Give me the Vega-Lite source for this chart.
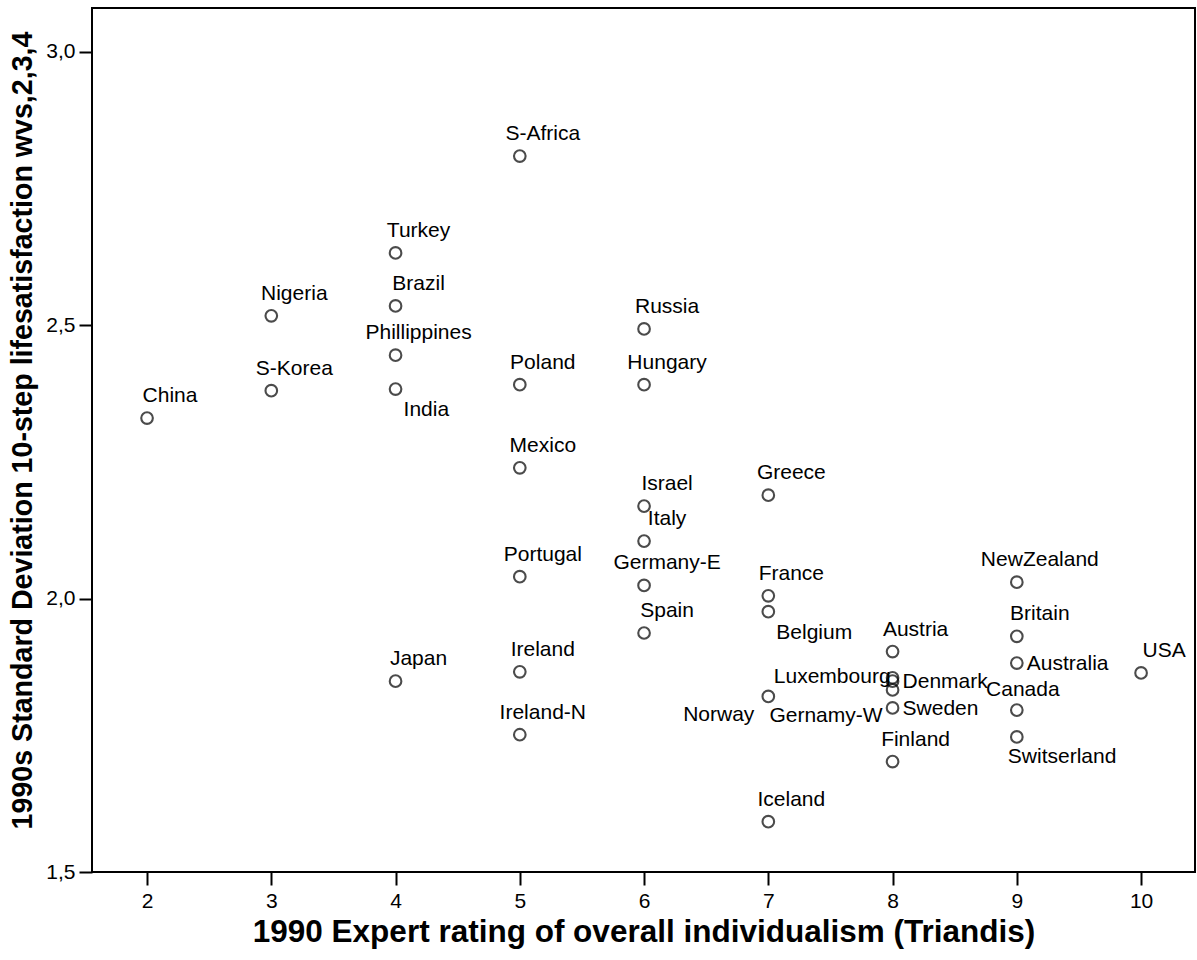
{
  "$schema": "https://vega.github.io/schema/vega-lite/v6.json",
  "autosize": "none",
  "width": 1103,
  "height": 864,
  "padding": {"left": 92, "top": 8, "right": 2, "bottom": 88},
  "background": "white",
  "config": {
    "font": "Liberation Sans",
    "view": {"stroke": "black", "strokeWidth": 2},
    "axis": {
      "domain": false,
      "grid": false,
      "tickColor": "black",
      "tickSize": 13,
      "tickWidth": 2,
      "labelColor": "black",
      "labelFont": "Liberation Sans",
      "labelFontSize": 21,
      "titleFont": "Liberation Sans",
      "titleFontWeight": "bold",
      "titleColor": "black"
    }
  },
  "data": {
    "values": [
      {"country": "China", "x": 2, "y": 2.330},
      {"country": "S-Korea", "x": 3, "y": 2.380},
      {"country": "Nigeria", "x": 3, "y": 2.517},
      {"country": "Turkey", "x": 4, "y": 2.632},
      {"country": "Brazil", "x": 4, "y": 2.535},
      {"country": "Phillippines", "x": 4, "y": 2.445},
      {"country": "India", "x": 4, "y": 2.383},
      {"country": "Japan", "x": 4, "y": 1.849},
      {"country": "S-Africa", "x": 5, "y": 2.809},
      {"country": "Poland", "x": 5, "y": 2.391},
      {"country": "Mexico", "x": 5, "y": 2.239},
      {"country": "Portugal", "x": 5, "y": 2.040},
      {"country": "Ireland", "x": 5, "y": 1.866},
      {"country": "Ireland-N", "x": 5, "y": 1.751},
      {"country": "Russia", "x": 6, "y": 2.493},
      {"country": "Hungary", "x": 6, "y": 2.391},
      {"country": "Israel", "x": 6, "y": 2.169},
      {"country": "Italy", "x": 6, "y": 2.105},
      {"country": "Germany-E", "x": 6, "y": 2.024},
      {"country": "Spain", "x": 6, "y": 1.937},
      {"country": "Greece", "x": 7, "y": 2.189},
      {"country": "France", "x": 7, "y": 2.005},
      {"country": "Belgium", "x": 7, "y": 1.976},
      {"country": "Norway", "x": 7, "y": 1.821},
      {"country": "Iceland", "x": 7, "y": 1.592},
      {"country": "Austria", "x": 8, "y": 1.903},
      {"country": "Luxembourg", "x": 8, "y": 1.855},
      {"country": "Denmark", "x": 8, "y": 1.849},
      {"country": "Gernamy-W", "x": 8, "y": 1.833},
      {"country": "Sweden", "x": 8, "y": 1.800},
      {"country": "Finland", "x": 8, "y": 1.702},
      {"country": "NewZealand", "x": 9, "y": 2.030},
      {"country": "Britain", "x": 9, "y": 1.931},
      {"country": "Australia", "x": 9, "y": 1.882},
      {"country": "Canada", "x": 9, "y": 1.796},
      {"country": "Switserland", "x": 9, "y": 1.747},
      {"country": "USA", "x": 10, "y": 1.864}
    ]
  },
  "encoding": {
    "x": {
      "field": "x",
      "type": "quantitative",
      "scale": {"domain": [1.557, 10.434], "nice": false, "zero": false},
      "axis": {
        "values": [2, 3, 4, 5, 6, 7, 8, 9, 10],
        "format": "d",
        "labelPadding": 5,
        "title": "1990 Expert rating of overall individualism (Triandis)",
        "titleFontSize": 31.5,
        "titlePadding": 5
      }
    },
    "y": {
      "field": "y",
      "type": "quantitative",
      "scale": {"domain": [1.5, 3.0798], "nice": false, "zero": false},
      "axis": {
        "values": [1.5, 2.0, 2.5, 3.0],
        "labelExpr": "replace(format(datum.value, '.1f'), '.', ',')",
        "labelPadding": 4,
        "title": "1990s Standard Deviation 10-step lifesatisfaction wvs,2,3,4",
        "titleFontSize": 28.6,
        "titleY": 422,
        "titlePadding": 8
      }
    }
  },
  "layer": [
    {
      "mark": {"type": "point", "shape": "circle", "filled": false, "size": 135, "stroke": "black", "strokeWidth": 2.1}
    },
    {
      "transform": [{"filter": {"field": "country", "oneOf": ["China", "S-Korea", "Nigeria", "Turkey", "Brazil", "Phillippines", "Japan", "S-Africa", "Poland", "Mexico", "Portugal", "Ireland", "Ireland-N", "Russia", "Hungary", "Israel", "Italy", "Germany-E", "Spain", "Greece", "France", "Iceland", "Austria", "Finland", "NewZealand", "Britain", "USA"]}}],
      "mark": {"type": "text", "align": "center", "baseline": "alphabetic", "dx": 23, "dy": -16, "fontSize": 21, "color": "black"},
      "encoding": {"text": {"field": "country"}}
    },
    {
      "transform": [{"filter": {"field": "country", "oneOf": ["Australia", "Sweden", "Denmark"]}}],
      "mark": {"type": "text", "align": "left", "baseline": "alphabetic", "dx": 10, "dy": 7, "fontSize": 21, "color": "black"},
      "encoding": {"text": {"field": "country"}}
    },
    {
      "transform": [{"filter": {"field": "country", "oneOf": ["Canada"]}}],
      "mark": {"type": "text", "align": "center", "baseline": "alphabetic", "dx": 6, "dy": -14, "fontSize": 21, "color": "black"},
      "encoding": {"text": {"field": "country"}}
    },
    {
      "transform": [{"filter": {"field": "country", "oneOf": ["Luxembourg"]}}],
      "mark": {"type": "text", "align": "right", "baseline": "alphabetic", "dx": -2, "dy": 5, "fontSize": 21, "color": "black"},
      "encoding": {"text": {"field": "country"}}
    },
    {
      "transform": [{"filter": {"field": "country", "oneOf": ["Gernamy-W"]}}],
      "mark": {"type": "text", "align": "right", "baseline": "alphabetic", "dx": -10, "dy": 32, "fontSize": 21, "color": "black"},
      "encoding": {"text": {"field": "country"}}
    },
    {
      "transform": [{"filter": {"field": "country", "oneOf": ["Norway"]}}],
      "mark": {"type": "text", "align": "right", "baseline": "alphabetic", "dx": -14, "dy": 25, "fontSize": 21, "color": "black"},
      "encoding": {"text": {"field": "country"}}
    },
    {
      "transform": [{"filter": {"field": "country", "oneOf": ["India", "Belgium"]}}],
      "mark": {"type": "text", "align": "left", "baseline": "alphabetic", "dx": 8, "dy": 27, "fontSize": 21, "color": "black"},
      "encoding": {"text": {"field": "country"}}
    },
    {
      "transform": [{"filter": {"field": "country", "oneOf": ["Switserland"]}}],
      "mark": {"type": "text", "align": "left", "baseline": "alphabetic", "dx": -9, "dy": 26, "fontSize": 21, "color": "black"},
      "encoding": {"text": {"field": "country"}}
    }
  ]
}
